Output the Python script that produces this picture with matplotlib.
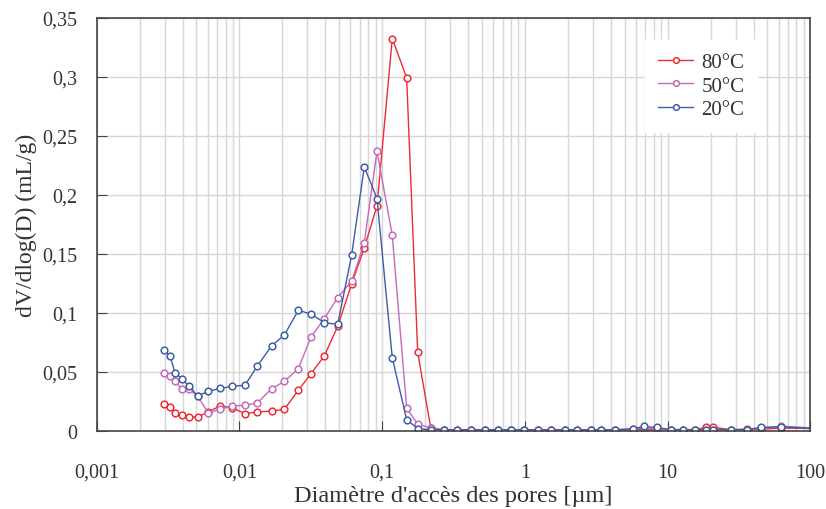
import matplotlib
matplotlib.use('Agg')
import matplotlib.pyplot as plt
from matplotlib.ticker import FixedLocator, FuncFormatter, LogLocator, NullFormatter

# pore access diameter (µm), shared by the three series
diam = [0.00296, 0.00327, 0.00354, 0.00394, 0.00444, 0.0051, 0.00605, 0.00731,
        0.00892, 0.01094, 0.01334, 0.01683, 0.02063, 0.02588, 0.03177, 0.03937,
        0.04885, 0.06124, 0.0750, 0.0921, 0.1178, 0.1486, 0.1775, 0.2191,
        0.273, 0.3365, 0.4198, 0.526, 0.6457, 0.800, 0.993, 1.244, 1.528, 1.914,
        2.312, 2.897, 3.42, 4.29, 5.76, 6.87, 8.39, 10.5, 12.8, 15.6, 18.6, 20.9,
        27.7, 35.9, 45.2, 62.4, 110]

t80 = [0.0226, 0.0203, 0.0152, 0.0132, 0.0118, 0.0118, 0.0161, 0.0212, 0.0195,
       0.0147, 0.0161, 0.0169, 0.0183, 0.0344, 0.0486, 0.0636, 0.0886, 0.1248,
       0.1551, 0.1907, 0.3325, 0.2992, 0.0669, 0.0025,
       0.0008, 0.0008, 0.0008, 0.0008, 0.0008, 0.0008, 0.0008, 0.0008, 0.0008,
       0.0008, 0.0008, 0.0008, 0.0008, 0.0008, 0.0010, 0.0010, 0.0010, 0.0010,
       0.0010, 0.0010, 0.0032, 0.0032, 0.0010, 0.0015, 0.0015, 0.0025, 0.0020]

t50 = [0.0492, 0.0466, 0.0420, 0.0358, 0.0353, 0.0295, 0.0153, 0.0183, 0.0212,
       0.0217, 0.0237, 0.0358, 0.0420, 0.0528, 0.0797, 0.0952, 0.1130, 0.1271,
       0.1593, 0.2370, 0.1658, 0.0195, 0.0058, 0.0025,
       0.0010, 0.0010, 0.0010, 0.0010, 0.0010, 0.0010, 0.0010, 0.0010, 0.0010,
       0.0010, 0.0010, 0.0010, 0.0010, 0.0010, 0.0015, 0.0025, 0.0020, 0.0010,
       0.0010, 0.0010, 0.0010, 0.0012, 0.0012, 0.0012, 0.0025, 0.0040, 0.0025]

t20 = [0.0689, 0.0636, 0.0494, 0.0443, 0.0378, 0.0297, 0.0336, 0.0360, 0.0379,
       0.0387, 0.0549, 0.0722, 0.0812, 0.1022, 0.0991, 0.0918, 0.0903, 0.1494,
       0.2237, 0.1969, 0.0620, 0.0096, 0.0020, 0.0010,
       0.0010, 0.0010, 0.0010, 0.0010, 0.0010, 0.0010, 0.0010, 0.0010, 0.0010,
       0.0010, 0.0010, 0.0010, 0.0010, 0.0010, 0.0020, 0.0038, 0.0030, 0.0012,
       0.0012, 0.0012, 0.0008, 0.0012, 0.0012, 0.0012, 0.0030, 0.0035, 0.0020]

labels = ['80°C', '50°C', '20°C']
colors = ['#ee2b33', '#c26bb8', '#3d5da6']
yticks = [0, 0.05, 0.1, 0.15, 0.2, 0.25, 0.3, 0.35]

plt.rcParams['font.family'] = ['Liberation Serif', 'DejaVu Serif']

fig = plt.figure(figsize=(8.26, 5.10), dpi=100)
ax = fig.add_axes([0.117, 0.153, 0.864, 0.810])

for ys, lab, c in zip([t80, t50, t20], labels, colors):
    ax.plot(diam, ys, color=c, lw=1.0, marker='o', ms=4.8, mfc='white',
            mec=c, mew=1.1, label=lab)

ax.set_xscale('log')
ax.set_xlim(0.001, 100)
ax.set_ylim(0, 0.35)
ax.xaxis.set_major_locator(LogLocator(base=10))
ax.xaxis.set_minor_locator(LogLocator(base=10, subs=range(2, 10)))
ax.xaxis.set_minor_formatter(NullFormatter())
ax.xaxis.set_major_formatter(FuncFormatter(
    lambda v, p: ('%g' % v).replace('.', ',')))
ax.yaxis.set_major_locator(FixedLocator(yticks))
ax.yaxis.set_major_formatter(FuncFormatter(
    lambda v, p: '0' if v == 0 else ('%g' % v).replace('.', ',')))

ax.grid(True, which='both', color='#d6d6d6', lw=1.0)
ax.set_axisbelow(True)
for s in ax.spines.values():
    s.set_color('#444444')
    s.set_linewidth(1.2)
ax.tick_params(which='major', direction='in', length=7, color='#444444',
               labelsize=14.5, labelcolor='#333333')
ax.tick_params(axis='x', pad=23)
ax.tick_params(axis='y', pad=14)
ax.tick_params(which='minor', length=0)

ax.set_xlabel("Diamètre d'accès des pores [µm]", fontsize=17.5, labelpad=2,
              color='#333333')
ax.set_ylabel('dV/dlog(D) (mL/g)', fontsize=17, labelpad=4, color='#333333')

leg = ax.legend(loc='upper right', bbox_to_anchor=(0.94, 0.972), fontsize=15,
                frameon=True, fancybox=False, framealpha=1, edgecolor='white',
                handlelength=1.7, handletextpad=0.4, labelspacing=0.2,
                borderpad=0.6, markerscale=0.85)
for t in leg.get_texts():
    t.set_color('#333333')

fig.savefig('out.png', dpi=100)
